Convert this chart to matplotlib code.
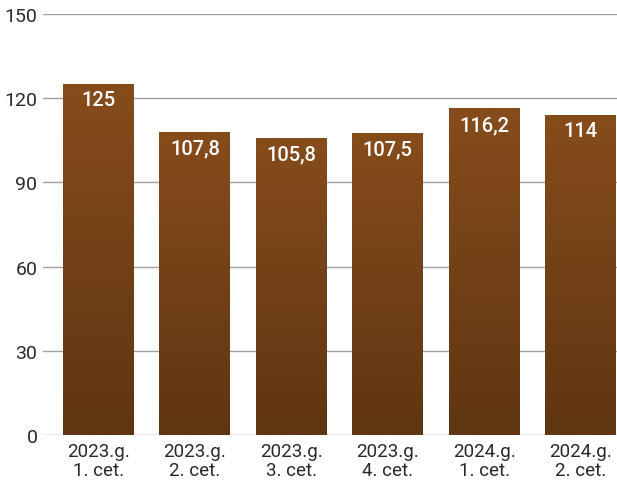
import matplotlib
matplotlib.use("Agg")
import matplotlib.pyplot as plt
import numpy as np
from matplotlib.colors import LinearSegmentedColormap

categories = ["2023.g.\n1. cet.", "2023.g.\n2. cet.", "2023.g.\n3. cet.",
              "2023.g.\n4. cet.", "2024.g.\n1. cet.", "2024.g.\n2. cet."]
values = [125, 107.8, 105.8, 107.5, 116.2, 114]
labels = ["125", "107,8", "105,8", "107,5", "116,2", "114"]
yticks = [0, 30, 60, 90, 120, 150]

fam = "Roboto"

W, H = 617, 481
fig = plt.figure(figsize=(W / 100, H / 100), dpi=100)
ax = fig.add_axes([43 / W, (H - 436) / H, (617 - 43) / W, (436 - 15) / H])

x = np.arange(len(values))
bars = ax.bar(x, values, width=0.735, color="none", edgecolor="none", zorder=3)
cmap = LinearSegmentedColormap.from_list("g", ["#5f3512", "#864c1c"])
grad = np.linspace(0, 1, 256).reshape(-1, 1)
for b in bars:
    x0 = b.get_x()
    w, h = b.get_width(), b.get_height()
    ax.imshow(grad, cmap=cmap, origin="lower", aspect="auto",
              extent=[x0, x0 + w, 0, h], zorder=3, vmin=0, vmax=1)

for xi, v, lab in zip(x, values, labels):
    ax.text(xi, v - 5.6, lab, ha="center", va="center", color="white",
            fontsize=14.5, fontweight="medium", family=fam, zorder=5)

ax.set_xlim(-0.576, 5.379)
ax.set_ylim(0, 150)
ax.set_yticks(yticks)
ax.set_yticklabels([str(t) for t in yticks], fontsize=14, color="#2a2a2a",
                   family=fam)
ax.set_xticks(x)
ax.set_xticklabels(categories, fontsize=13.5, color="#2a2a2a", family=fam,
                   linespacing=1.1)
ax.tick_params(axis="both", length=0)
ax.tick_params(axis="y", pad=4)
ax.tick_params(axis="x", pad=5)
ax.grid(axis="y", color="#a0a0a0", linewidth=1.0, zorder=0)
ax.set_axisbelow(True)
for s in ax.spines.values():
    s.set_visible(False)

fig.savefig("out.png", dpi=100)
